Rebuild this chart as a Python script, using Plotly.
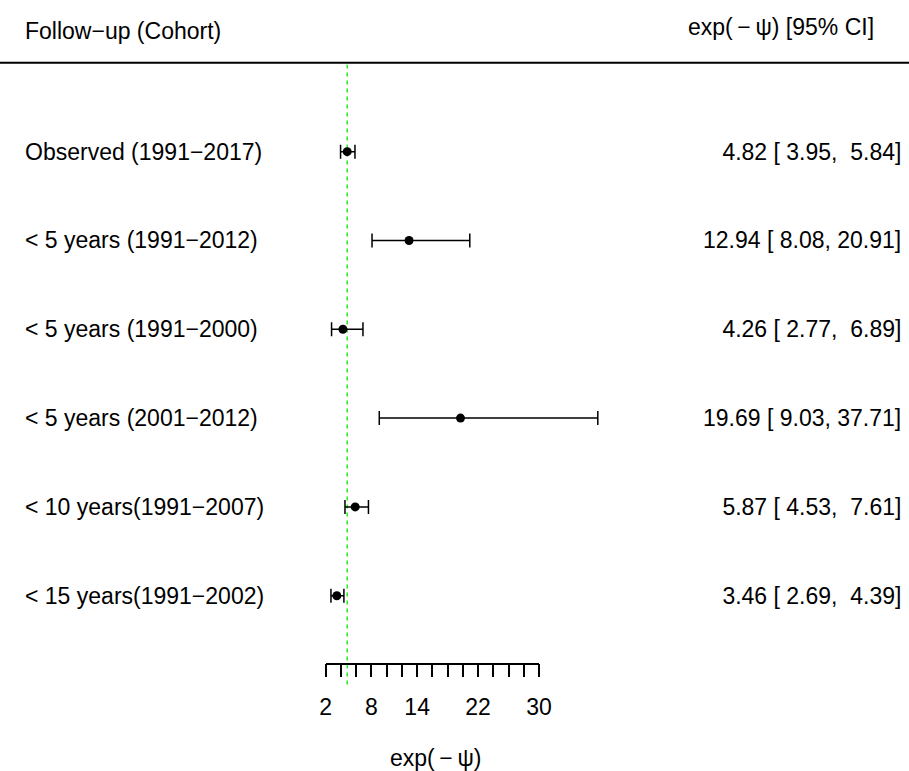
import plotly.graph_objects as go

labels = ["Observed (1991−2017)", "&lt; 5 years (1991−2012)", "&lt; 5 years (1991−2000)",
          "&lt; 5 years (2001−2012)", "&lt; 10 years(1991−2007)", "&lt; 15 years(1991−2002)"]
estimates = [4.82, 12.94, 4.26, 19.69, 5.87, 3.46]
lower = [3.95, 8.08, 2.77, 9.03, 4.53, 2.69]
upper = [5.84, 20.91, 6.89, 37.71, 7.61, 4.39]
rows = [6, 5, 4, 3, 2, 1]
ref_value = 4.82
tick_values = [2, 4, 6, 8, 10, 12, 14, 16, 18, 20, 22, 24, 26, 28, 30]
tick_labels = ["2", "", "", "8", "", "", "14", "", "", "", "22", "", "", "", "30"]
header_left = "Follow−up (Cohort)"
header_right = "exp(\u2009−\u2009ψ) [95% CI]"
x_title = "exp(\u2009−\u2009ψ)"

FONT = "Liberation Sans, Arial, Helvetica, sans-serif"
W, H = 909, 771
px_per_unit = 7.62
x0_px = 325.7
xmin = 2 - x0_px / px_per_unit
xmax = 2 + (W - x0_px) / px_per_unit
ymin, ymax = -0.974, 7.708

fig = go.Figure()
fig.add_trace(go.Scatter(
    x=estimates, y=rows, mode="markers",
    marker=dict(color="black", size=9, symbol="circle"),
    error_x=dict(type="data", symmetric=False,
                 array=[u - e for u, e in zip(upper, estimates)],
                 arrayminus=[e - l for e, l in zip(estimates, lower)],
                 color="black", thickness=1.5, width=7),
    hoverinfo="skip", showlegend=False, xaxis="x", yaxis="y"))

# invisible trace for the scale axis
fig.add_trace(go.Scatter(x=[tick_values[0], tick_values[-1]], y=[0, 0], mode="none",
                         hoverinfo="skip", showlegend=False, xaxis="x2", yaxis="y"))

fig.add_shape(type="line", xref="x", yref="y", x0=ref_value, x1=ref_value, y0=0, y1=6.98,
              line=dict(color="#00EE00", width=1.3, dash="4px,4px"), layer="below")
fig.add_shape(type="line", xref="paper", yref="y", x0=0, x1=1, y0=7, y1=7,
              line=dict(color="black", width=2))

ann = []
for lab, e, lo, hi, r in zip(labels, estimates, lower, upper, rows):
    ann.append(dict(x=23 / W, xref="paper", y=r, yref="y", text=lab, showarrow=False,
                    xanchor="left", yanchor="middle", font=dict(size=23, color="black", family=FONT)))
    txt = f"{e:5.2f} [{lo:5.2f}, {hi:5.2f}]".replace(" ", "\u00a0")
    ann.append(dict(x=903 / W, xref="paper", y=r, yref="y", text=txt, showarrow=False,
                    xanchor="right", yanchor="middle", font=dict(size=23, color="black", family=FONT)))
ann.append(dict(x=23 / W, xref="paper", y=7.359, yref="y", text=header_left, showarrow=False,
                xanchor="left", yanchor="middle", font=dict(size=23, color="black", family=FONT)))
ann.append(dict(x=876 / W, xref="paper", y=7.40, yref="y", text=header_right, showarrow=False,
                xanchor="right", yanchor="middle", font=dict(size=23, color="black", family=FONT)))
ann.append(dict(x=16.4, xref="x", y=-0.83, yref="y", text=x_title, showarrow=False,
                xanchor="center", yanchor="middle", font=dict(size=23, color="black", family=FONT)))

fig.update_layout(
    width=W, height=H, autosize=False, margin=dict(l=0, r=0, t=0, b=0, pad=0),
    paper_bgcolor="white", plot_bgcolor="rgba(0,0,0,0)",
    xaxis=dict(range=[xmin, xmax], visible=False, fixedrange=True, automargin=False),
    xaxis2=dict(domain=[x0_px / W, (x0_px + 28 * px_per_unit) / W], range=[2, 30],
                anchor="free", position=1 - 663.5 / H, automargin=False,
                showline=True, linecolor="black", linewidth=1.5,
                ticks="outside", ticklen=13, tickwidth=1.5, tickcolor="black",
                tickvals=tick_values, ticktext=tick_labels, ticklabelstandoff=10,
                tickfont=dict(size=23, color="black", family=FONT),
                showgrid=False, zeroline=False, fixedrange=True),
    yaxis=dict(range=[ymin, ymax], visible=False, fixedrange=True, automargin=False),
    annotations=ann, showlegend=False,
)
fig.write_html("out.html", config={"responsive": False})
